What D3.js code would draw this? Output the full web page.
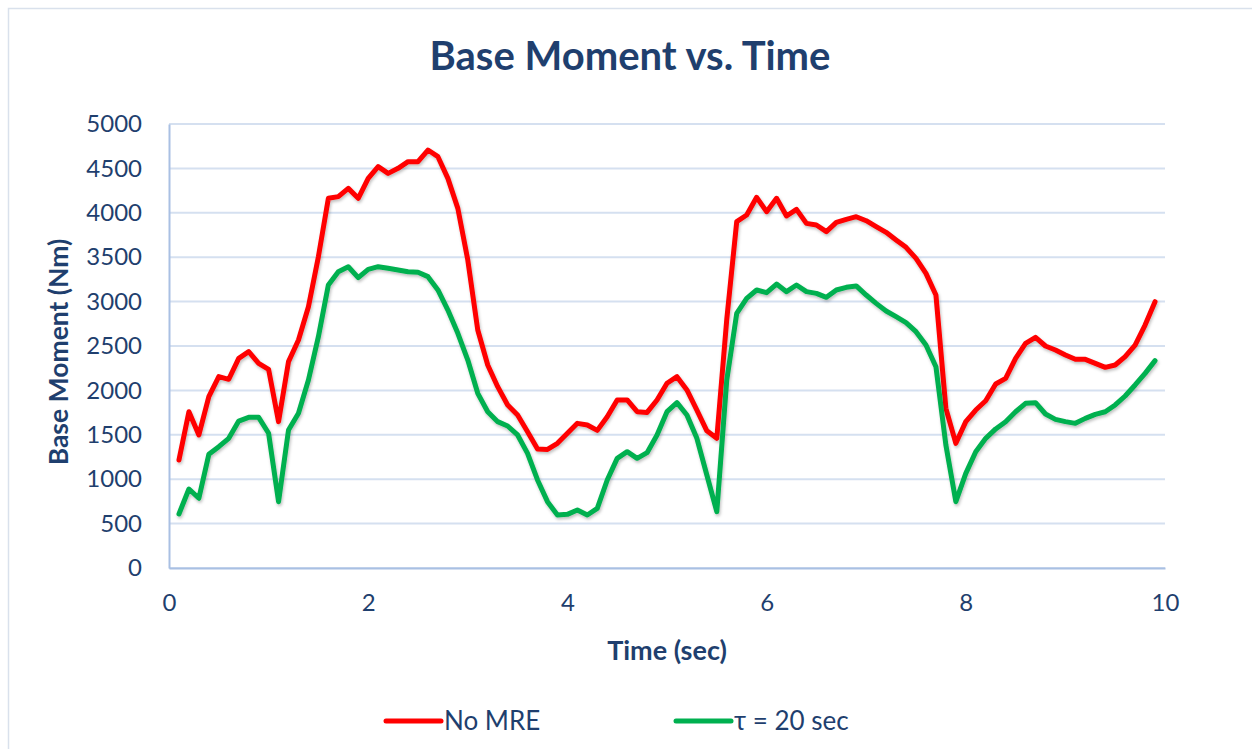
<!DOCTYPE html>
<html>
<head>
<meta charset="utf-8">
<script src="https://cdn.jsdelivr.net/npm/d3@7"></script>
<style>
  body { margin: 0; background: #fff; }
  text { font-family: Lato, "Open Sans", sans-serif; fill: #1f3f6e; }
</style>
</head>
<body>
<div id="chart"></div>
<script>
var time = [0.1,0.2,0.3,0.4,0.5,0.6,0.7,0.8,0.9,1.0,
  1.1,1.2,1.3,1.4,1.5,1.6,1.7,1.8,1.9,2.0,
  2.1,2.2,2.3,2.4,2.5,2.6,2.7,2.8,2.9,3.0,
  3.1,3.2,3.3,3.4,3.5,3.6,3.7,3.8,3.9,4.0,
  4.1,4.2,4.3,4.4,4.5,4.6,4.7,4.8,4.9,5.0,
  5.1,5.2,5.3,5.4,5.5,5.6,5.7,5.8,5.9,6.0,
  6.1,6.2,6.3,6.4,6.5,6.6,6.7,6.8,6.9,7.0,
  7.1,7.2,7.3,7.4,7.5,7.6,7.7,7.8,7.9,8.0,
  8.1,8.2,8.3,8.4,8.5,8.6,8.7,8.8,8.9,9.0,
  9.1,9.2,9.3,9.4,9.5,9.6,9.7,9.8,9.9];

var noMRE = [1216,1760,1498,1929,2155,2125,2361,2436,2305,2237,
  1648,2324,2568,2943,3506,4163,4182,4275,4163,4388,
  4520,4444,4501,4576,4576,4707,4632,4388,4050,3468,
  2680,2286,2042,1836,1723,1535,1340,1335,1404,1517,
  1629,1610,1550,1704,1892,1892,1760,1752,1892,2080,
  2155,2005,1779,1545,1460,2800,3900,3975,4174,4013,
  4163,3964,4039,3881,3863,3788,3893,3926,3956,3911,
  3844,3780,3694,3611,3487,3318,3074,1798,1404,1648,
  1779,1884,2072,2136,2361,2530,2598,2500,2455,2399,
  2350,2350,2305,2260,2286,2380,2511,2736,2999];

var tau20 = [608,890,785,1280,1366,1460,1655,1697,1697,1517,
  747,1554,1742,2117,2605,3187,3337,3393,3270,3363,
  3393,3375,3356,3337,3330,3281,3131,2905,2643,2342,
  1967,1760,1648,1599,1498,1291,991,747,597,604,
  653,597,672,991,1235,1310,1235,1299,1498,1760,
  1862,1723,1460,1047,634,2117,2868,3037,3131,3101,
  3198,3112,3187,3112,3093,3048,3131,3161,3176,3074,
  2980,2894,2830,2763,2661,2511,2267,1385,747,1066,
  1310,1460,1566,1648,1760,1854,1862,1734,1674,1648,
  1629,1685,1730,1760,1836,1937,2061,2192,2335];

var seriesNames = ["No MRE", "\u03c4 = 20 sec"];
var seriesColors = ["#ff0000", "#00b050"];
var xTicks = [0, 2, 4, 6, 8, 10];
var yTicks = [0,500,1000,1500,2000,2500,3000,3500,4000,4500,5000];

var W = 1252, H = 749;
var margin = { top: 124, right: 87, bottom: 181, left: 169 },
    width = W - margin.left - margin.right,
    height = H - margin.top - margin.bottom;

var svg = d3.select("#chart").append("svg")
  .attr("width", W)
  .attr("height", H);

// outer chart border
svg.append("rect")
  .attr("x", 8.5).attr("y", 8.5)
  .attr("width", W + 10).attr("height", H + 10)
  .attr("fill", "none")
  .attr("stroke", "#d9e1ec")
  .attr("stroke-width", 1.5);

var defs = svg.append("defs");
var f = defs.append("filter").attr("id", "shadow")
  .attr("x", "-5%").attr("y", "-5%").attr("width", "110%").attr("height", "115%");
f.append("feDropShadow").attr("dx", 1).attr("dy", 2).attr("stdDeviation", 1.5)
  .attr("flood-color", "#000").attr("flood-opacity", 0.25);

var g = svg.append("g")
  .attr("transform", "translate(" + margin.left + "," + margin.top + ")");

var x = d3.scaleLinear().domain([0, 10]).range([0, width]);
var y = d3.scaleLinear().domain([0, 5000]).range([height, 0]);

// gridlines
g.selectAll(".grid")
  .data(yTicks)
  .enter().append("line")
  .attr("class", "grid")
  .attr("x1", 0).attr("x2", width)
  .attr("y1", function(d) { return y(d); })
  .attr("y2", function(d) { return y(d); })
  .attr("stroke", "#d5e0f0")
  .attr("stroke-width", 2);

// axes
var xAxis = g.append("g")
  .attr("transform", "translate(0," + height + ")")
  .call(d3.axisBottom(x).tickValues(xTicks).tickSize(0).tickPadding(26).tickFormat(d3.format("d")));
var yAxis = g.append("g")
  .call(d3.axisLeft(y).tickValues(yTicks).tickSize(0).tickPadding(27).tickFormat(d3.format("d")));

[xAxis, yAxis].forEach(function(a) {
  a.select(".domain").attr("stroke", "#a9c0e3").attr("stroke-width", 2);
  a.selectAll("text")
    .style("font-family", "Lato, sans-serif")
    .style("font-size", "24px")
    .attr("fill", "#1f3f6e");
});

// lines
var seriesData = [noMRE, tau20];
var line = d3.line()
  .x(function(d, i) { return x(time[i]); })
  .y(function(d) { return y(d); });

g.selectAll(".series")
  .data(seriesData)
  .enter().append("path")
  .attr("class", "series")
  .attr("d", line)
  .attr("fill", "none")
  .attr("stroke", function(d, i) { return seriesColors[i]; })
  .attr("stroke-width", 5)
  .attr("stroke-linejoin", "round")
  .attr("stroke-linecap", "round")
  .attr("filter", "url(#shadow)");

// title and axis labels
svg.append("text")
  .attr("x", 630).attr("y", 70)
  .attr("text-anchor", "middle")
  .style("font-size", "40px")
  .style("font-weight", "bold")
  .text("Base Moment vs. Time");

svg.append("text")
  .attr("x", 667).attr("y", 660)
  .attr("text-anchor", "middle")
  .style("font-size", "27px")
  .style("font-weight", "bold")
  .text("Time (sec)");

svg.append("text")
  .attr("transform", "translate(68,352) rotate(-90)")
  .attr("text-anchor", "middle")
  .style("font-size", "26.5px")
  .style("font-weight", "bold")
  .text("Base Moment (Nm)");

// legend
var legendX = [386, 676];
var legend = svg.selectAll(".legend")
  .data(seriesNames)
  .enter().append("g")
  .attr("class", "legend")
  .attr("transform", function(d, i) { return "translate(" + legendX[i] + ",721)"; });

legend.append("line")
  .attr("x1", 0).attr("x2", 55)
  .attr("stroke", function(d, i) { return seriesColors[i]; })
  .attr("stroke-width", 5)
  .attr("stroke-linecap", "round");

legend.append("text")
  .attr("x", 58).attr("y", 9)
  .style("font-size", "26px")
  .text(function(d) { return d; });
</script>
</body>
</html>
